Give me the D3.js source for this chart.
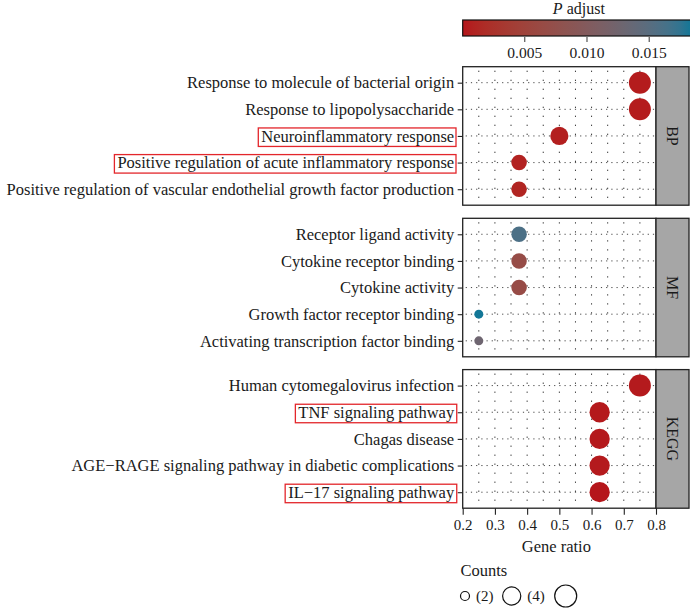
<!DOCTYPE html>
<html>
<head>
<meta charset="utf-8">
<script src="https://cdn.jsdelivr.net/npm/d3@7/dist/d3.min.js"></script>
<style>
  html, body { margin: 0; padding: 0; background: #fff; }
  svg { display: block; font-family: "Liberation Serif", "DejaVu Serif", serif; }
</style>
</head>
<body>
<svg id="chart" width="690" height="608"></svg>
<script>
// ---------------- DATA ----------------
const categories = ["BP", "MF", "KEGG"];
const terms = [
  "Response to molecule of bacterial origin",
  "Response to lipopolysaccharide",
  "Neuroinflammatory response",
  "Positive regulation of acute inflammatory response",
  "Positive regulation of vascular endothelial growth factor production",
  "Receptor ligand activity",
  "Cytokine receptor binding",
  "Cytokine activity",
  "Growth factor receptor binding",
  "Activating transcription factor binding",
  "Human cytomegalovirus infection",
  "TNF signaling pathway",
  "Chagas disease",
  "AGE\u2212RAGE signaling pathway in diabetic complications",
  "IL\u221217 signaling pathway"
];
const termCategory = ["BP","BP","BP","BP","BP","MF","MF","MF","MF","MF","KEGG","KEGG","KEGG","KEGG","KEGG"];
const geneRatio = [0.75, 0.75, 0.5, 0.375, 0.375, 0.375, 0.375, 0.375, 0.25, 0.25, 0.75, 0.625, 0.625, 0.625, 0.625];
const counts    = [6, 6, 4, 3, 3, 3, 3, 3, 2, 2, 6, 5, 5, 5, 5];
const pAdjust   = [0.0004, 0.0004, 0.0006, 0.0009, 0.0011, 0.0160, 0.0068, 0.0066, 0.0184, 0.0128, 0.0003, 0.0002, 0.0002, 0.0003, 0.00005];
const highlighted = [
  "Neuroinflammatory response",
  "Positive regulation of acute inflammatory response",
  "TNF signaling pathway",
  "IL\u221217 signaling pathway"
];
const xTicks = [0.2, 0.3, 0.4, 0.5, 0.6, 0.7, 0.8];
const xGrid = [0.25, 0.3, 0.35, 0.4, 0.45, 0.5, 0.55, 0.6, 0.65, 0.7, 0.75];
const colorTicks = [0.005, 0.010, 0.015];
const sizeLegendCounts = [2, 4, 6];
const sizeLegendLabels = ["(2)", "(4)", ""];

// ---------------- LAYOUT ----------------
const svg = d3.select("#chart");
const panelLeft = 462.7, panelRight = 656;
const panels = [
  { cat: "BP",   top: 66.7,  bottom: 205.2 },
  { cat: "MF",   top: 218.3, bottom: 356.8 },
  { cat: "KEGG", top: 369.6, bottom: 508.2 }
];
const stripRight = 689;
const LABEL_FONT = 16.5;
const TICK_FONT = 15;
const TITLE_FONT = 16.5;
const INK = "#1a1a1a";

const x = d3.scaleLinear().domain([0.2, 0.8]).range([panelLeft, panelRight]);
const pMin = d3.min(pAdjust), pMax = d3.max(pAdjust);
const color = d3.scaleLinear().domain([pMin, pMax])
  .range(["#B5161B", "#137797"]).interpolate(d3.interpolateLab);
const r = d3.scaleSqrt().domain([0, 4]).range([4.5, 11]); // applied to count - 2

const data = terms.map((t, i) => ({
  term: t, cat: termCategory[i], ratio: geneRatio[i], count: counts[i], p: pAdjust[i]
}));

// ---------------- PANELS ----------------
panels.forEach(pn => {
  const rows = data.filter(d => d.cat === pn.cat);
  const y = d3.scalePoint().domain(rows.map(d => d.term))
    .range([pn.top, pn.bottom]).padding(0.6);
  const g = svg.append("g");

  g.append("rect").attr("x", panelLeft).attr("y", pn.top)
    .attr("width", panelRight - panelLeft).attr("height", pn.bottom - pn.top)
    .attr("fill", "#fff");

  // vertical dotted grid
  g.selectAll(".vg").data(xGrid).join("line")
    .attr("x1", d => x(d)).attr("x2", d => x(d))
    .attr("y1", pn.top).attr("y2", pn.bottom)
    .attr("stroke", "#222").attr("stroke-width", 1)
    .attr("stroke-dasharray", "1.2,7.8").attr("stroke-dashoffset", -4);
  // horizontal dotted grid
  g.selectAll(".hg").data(rows).join("line")
    .attr("x1", panelLeft).attr("x2", panelRight)
    .attr("y1", d => y(d.term)).attr("y2", d => y(d.term))
    .attr("stroke", "#333").attr("stroke-width", 0.9)
    .attr("stroke-dasharray", "1.2,4").attr("stroke-dashoffset", -3);

  // points
  g.selectAll("circle.pt").data(rows).join("circle")
    .attr("cx", d => x(d.ratio)).attr("cy", d => y(d.term))
    .attr("r", d => r(d.count - 2)).attr("fill", d => color(d.p));

  // border
  g.append("rect").attr("x", panelLeft).attr("y", pn.top)
    .attr("width", panelRight - panelLeft).attr("height", pn.bottom - pn.top)
    .attr("fill", "none").attr("stroke", "#222").attr("stroke-width", 1.3);

  // y axis
  const yAxis = d3.axisLeft(y).tickSize(5).tickPadding(3.5);
  const ya = svg.append("g").attr("transform", `translate(${panelLeft},0)`).call(yAxis);
  ya.select(".domain").remove();
  ya.selectAll(".tick line").attr("stroke", "#222").attr("stroke-width", 1.1);
  ya.selectAll(".tick text").attr("font-size", LABEL_FONT).attr("fill", INK)
    .attr("font-family", "Liberation Serif, serif");

  // highlight boxes
  ya.selectAll(".tick").each(function(d) {
    if (highlighted.indexOf(d) < 0) return;
    const t = d3.select(this).select("text").node();
    const bb = t.getBBox();
    d3.select(this).insert("rect", "text")
      .attr("x", bb.x - 3).attr("y", -8.5)
      .attr("width", bb.width + 3 + 1.8).attr("height", 18.5)
      .attr("fill", "none").attr("stroke", "#E3262B").attr("stroke-width", 1.3);
  });

  // strip
  svg.append("rect").attr("x", panelRight).attr("y", pn.top)
    .attr("width", stripRight - panelRight).attr("height", pn.bottom - pn.top)
    .attr("fill", "#A6A6A6").attr("stroke", "#222").attr("stroke-width", 1.3);
  svg.append("text")
    .attr("transform", `translate(${(panelRight + stripRight) / 2},${(pn.top + pn.bottom) / 2}) rotate(90)`)
    .attr("text-anchor", "middle").attr("dy", "0.35em")
    .attr("font-size", 16).attr("fill", INK).text(pn.cat);
});

// ---------------- X AXIS ----------------
const last = panels[panels.length - 1];
const xAxis = d3.axisBottom(x).tickValues(xTicks).tickFormat(d3.format(".1f"))
  .tickSize(6.5).tickPadding(5);
const xa = svg.append("g").attr("transform", `translate(0,${last.bottom})`).call(xAxis);
xa.select(".domain").remove();
xa.selectAll(".tick line").attr("stroke", "#222").attr("stroke-width", 1.1);
xa.selectAll(".tick text").attr("font-size", TICK_FONT).attr("fill", INK)
  .attr("font-family", "Liberation Serif, serif");
svg.append("text").attr("x", (panelLeft + panelRight) / 2 - 3).attr("y", 552)
  .attr("text-anchor", "middle").attr("font-size", TITLE_FONT).attr("fill", INK)
  .text("Gene ratio");

// ---------------- COLOR LEGEND ----------------
const barLeft = 462.7, barRight = 691, barTop = 20, barBottom = 36;
const xc = d3.scaleLinear().domain([pMin, pMax]).range([barLeft, barRight]);
const defs = svg.append("defs");
const grad = defs.append("linearGradient").attr("id", "pgrad")
  .attr("x1", "0%").attr("x2", "100%").attr("y1", "0%").attr("y2", "0%");
d3.range(0, 1.0001, 0.05).forEach(t => {
  grad.append("stop").attr("offset", `${t * 100}%`)
    .attr("stop-color", color(pMin + t * (pMax - pMin)));
});
svg.append("rect").attr("x", barLeft).attr("y", barTop)
  .attr("width", barRight - barLeft).attr("height", barBottom - barTop)
  .attr("fill", "url(#pgrad)").attr("stroke", "#111").attr("stroke-width", 1.2);
const cAxis = d3.axisBottom(xc).tickValues(colorTicks).tickFormat(d3.format(".3f"))
  .tickSize(5).tickPadding(4.5);
const ca = svg.append("g").attr("transform", `translate(0,${barBottom + 1})`).call(cAxis);
ca.select(".domain").remove();
ca.selectAll(".tick line").attr("stroke", "#333").attr("stroke-width", 1);
ca.selectAll(".tick text").attr("font-size", 15.5).attr("fill", INK)
  .attr("font-family", "Liberation Serif, serif");
const title = svg.append("text").attr("x", (barLeft + barRight) / 2 + 2).attr("y", 14)
  .attr("text-anchor", "middle").attr("font-size", 16).attr("fill", INK);
title.append("tspan").attr("font-style", "italic").text("P");
title.append("tspan").text(" adjust");

// ---------------- SIZE LEGEND ----------------
svg.append("text").attr("x", 460.5).attr("y", 576).attr("font-size", TITLE_FONT)
  .attr("fill", INK).text("Counts");
const keyCx = [465, 511.7, 565.7];
const keyCy = 596;
sizeLegendCounts.forEach((c, i) => {
  svg.append("circle").attr("cx", keyCx[i]).attr("cy", keyCy).attr("r", r(c - 2))
    .attr("fill", "#fff").attr("stroke", "#111").attr("stroke-width", 1.2);
  if (sizeLegendLabels[i]) {
    svg.append("text").attr("x", keyCx[i] + r(c - 2) + 6.5).attr("y", keyCy + 4.5)
      .attr("font-size", TICK_FONT).attr("fill", INK).text(sizeLegendLabels[i]);
  }
});
</script>
</body>
</html>
